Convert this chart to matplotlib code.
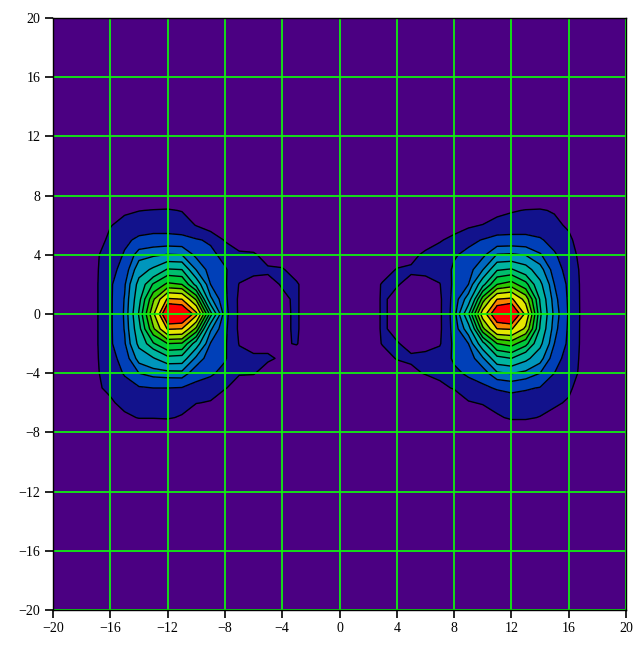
import numpy as np
import matplotlib
matplotlib.use('Agg')
from matplotlib import pyplot as plt

# axis ticks
ticks = [-20, -16, -12, -8, -4, 0, 4, 8, 12, 16, 20]

# contour levels (value units) and fill colours, lowest band first
levels = [-1, 1, 2.1, 3.0, 3.75, 4.8, 5.9, 6.7, 7.6, 8.45, 9.4, 10.5, 11.15, 13]
band_colors = ['#4b0082', '#12128c', '#0040b8', '#0068c0', '#0096bc', '#00b4a0',
               '#00be6e', '#00c83c', '#30c800', '#96dc00', '#e6e600', '#fa8200',
               '#ff0000']

# left blob on a 1-unit grid
left_x = list(range(-18, -1))      # -18 .. -2
left_y = list(range(8, -9, -1))    # 8 .. -8
left_vals = [
    [0, 0, 0, 0, 0, 0, 0, 0, 0, 0, 0, 0, 0, 0, 0, 0, 0],
    [0, 0, 0.3, 0.85, 0.97, 1.05, 1.1, 0.95, 0, 0, 0, 0, 0, 0, 0, 0, 0],
    [0, 0.2, 0.95, 1.3, 1.6, 1.65, 1.65, 1.55, 0.95, 0.3, 0, 0, 0, 0, 0, 0, 0],
    [0, 0.5, 1.25, 1.9, 2.3, 2.45, 2.45, 2.4, 2.2, 1.95, 0.9, 0.4, 0, 0, 0, 0, 0],
    [0, 0.85, 1.5, 2.2, 3.4, 3.6, 3.8, 3.75, 2.8, 2.35, 1.8, 1.2, 1.2, 0.4, 0, 0, 0],
    [0, 0.85, 1.75, 2.5, 4.3, 5.0, 6.0, 5.9, 3.7, 2.65, 2.2, 1.5, 1.3, 1.2, 1.15, 0.3, 0],
    [0, 0.85, 1.95, 2.9, 5.2, 6.8, 7.8, 7.6, 5.6, 3.0, 2.25, 0.95, 0.6, 0.6, 1.1, 1.2, 0],
    [0, 0.85, 1.95, 3.05, 5.6, 8.3, 10.65, 10.5, 8.3, 3.95, 2.35, 0.8, 0.3, 0.3, 0.75, 1.2, 0],
    [0, 0.85, 1.95, 3.1, 6.0, 9.2, 12.3, 12.2, 10.8, 6.3, 2.5, 0.8, 0.3, 0.3, 0.7, 1.2, 0],
    [0, 0.85, 1.95, 3.05, 5.6, 8.3, 10.6, 10.5, 8.2, 3.9, 2.35, 0.8, 0.3, 0.3, 0.7, 1.2, 0],
    [0, 0.85, 1.95, 2.9, 5.1, 6.6, 7.6, 7.5, 5.4, 2.95, 2.25, 0.95, 0.6, 0.6, 0.8, 1.1, 0],
    [0, 0.85, 1.75, 2.5, 4.1, 4.7, 5.6, 5.5, 3.5, 2.55, 2.2, 1.3, 1.2, 1.2, 0.8, 0, 0],
    [0, 0.85, 1.5, 2.2, 3.0, 3.3, 3.4, 3.45, 2.5, 2.25, 1.8, 1.1, 1.1, 0.4, 0, 0, 0],
    [0, 0.85, 1.2, 1.7, 2.0, 2.1, 2.1, 2.05, 1.8, 1.6, 1.1, 0.4, 0, 0, 0, 0, 0],
    [0, 0.3, 0.85, 1.3, 1.45, 1.55, 1.55, 1.4, 1.05, 0.9, 0, 0, 0, 0, 0, 0, 0],
    [0, 0, 0, 0.8, 1.05, 1.05, 1.1, 0.9, 0, 0, 0, 0, 0, 0, 0, 0, 0],
    [0, 0, 0, 0, 0, 0, 0, 0, 0, 0, 0, 0, 0, 0, 0, 0, 0],
]

# right blob, same grid spacing
right_x = list(range(2, 19))       # 2 .. 18
right_y = list(range(8, -9, -1))
right_vals = [
    [0, 0, 0, 0, 0, 0, 0, 0, 0, 0, 0, 0, 0, 0, 0, 0, 0],
    [0, 0, 0, 0, 0, 0, 0, 0, 0, 0.6, 0.9, 1.05, 1.1, 0.9, 0, 0, 0],
    [0, 0, 0, 0, 0, 0, 0.5, 0.8, 1.05, 1.5, 1.55, 1.6, 1.6, 1.3, 0.8, 0, 0],
    [0, 0, 0, 0, 0.3, 0.9, 1.3, 1.85, 2.15, 2.4, 2.43, 2.4, 2.2, 1.8, 1.3, 0.2, 0],
    [0, 0, 0, 0.6, 1.3, 1.5, 2.0, 2.35, 2.8, 3.8, 3.86, 3.7, 3.1, 2.2, 1.6, 0.5, 0],
    [0, 0.2, 1.1, 1.2, 1.3, 1.5, 2.25, 2.65, 3.7, 5.8, 6.0, 5.3, 4.1, 2.6, 1.7, 0.7, 0],
    [0, 1.15, 1.1, 0.6, 0.6, 0.95, 2.35, 3.0, 5.6, 7.6, 8.0, 7.0, 5.1, 3.0, 1.9, 0.7, 0],
    [0, 1.2, 0.6, 0.3, 0.3, 0.8, 2.5, 4.2, 8.0, 10.5, 10.7, 9.0, 5.8, 3.3, 1.95, 0.7, 0],
    [0, 1.2, 0.6, 0.3, 0.3, 0.8, 2.6, 5.8, 10.0, 12.0, 12.3, 10.3, 6.1, 3.5, 2.0, 0.7, 0],
    [0, 1.2, 0.6, 0.3, 0.3, 0.8, 2.5, 4.3, 8.2, 10.5, 10.6, 9.2, 5.8, 3.3, 1.95, 0.7, 0],
    [0, 1.1, 1.1, 0.6, 0.65, 0.9, 2.35, 3.0, 5.6, 7.6, 7.95, 7.0, 5.1, 3.0, 1.9, 0.7, 0],
    [0, 0.3, 1.1, 1.2, 1.3, 1.5, 2.25, 2.55, 3.6, 5.6, 5.9, 5.1, 4.1, 2.5, 1.7, 0.7, 0],
    [0, 0, 0, 0.7, 1.1, 1.3, 1.9, 2.25, 2.6, 3.6, 3.8, 3.5, 3.0, 2.1, 1.5, 0.7, 0],
    [0, 0, 0, 0, 0, 0.7, 1.1, 1.7, 1.9, 2.2, 2.35, 2.2, 2.05, 1.7, 1.25, 0.3, 0],
    [0, 0, 0, 0, 0, 0, 0, 0.9, 1.1, 1.4, 1.6, 1.6, 1.5, 1.2, 0.85, 0, 0],
    [0, 0, 0, 0, 0, 0, 0, 0, 0.3, 0.85, 1.15, 1.15, 0.95, 0.6, 0, 0, 0],
    [0, 0, 0, 0, 0, 0, 0, 0, 0, 0, 0, 0, 0, 0, 0, 0, 0],
]

xs = np.arange(-20, 21)
ys = np.arange(-20, 21)
Z = np.zeros((len(ys), len(xs)))

for i, yv in enumerate(left_y):
    for j, xv in enumerate(left_x):
        Z[yv + 20, xv + 20] = left_vals[i][j]
for i, yv in enumerate(right_y):
    for j, xv in enumerate(right_x):
        Z[yv + 20, xv + 20] = right_vals[i][j]

X, Y = np.meshgrid(xs, ys)

plt.rcParams['font.family'] = ['Liberation Serif', 'DejaVu Serif']

fig = plt.figure(figsize=(6.37, 6.47), dpi=100)
ax = fig.add_axes([53 / 637, 37 / 647, 573 / 637, 592 / 647])

ax.contourf(X, Y, Z, levels=levels, colors=band_colors)
ax.contour(X, Y, Z, levels=levels[1:-1], colors='black', linewidths=1.0)

for t in ticks:
    ax.axvline(t, color='#10f010', linewidth=1.3)
    ax.axhline(t, color='#10f010', linewidth=1.3)

ax.set_xlim(-20, 20)
ax.set_ylim(-20, 20)
ax.set_xticks(ticks)
ax.set_yticks(ticks)
ax.tick_params(direction='out', length=6, width=1.2, labelsize=10, pad=3)
for s in ax.spines.values():
    s.set_linewidth(1)

fig.savefig('out.png', dpi=100)
